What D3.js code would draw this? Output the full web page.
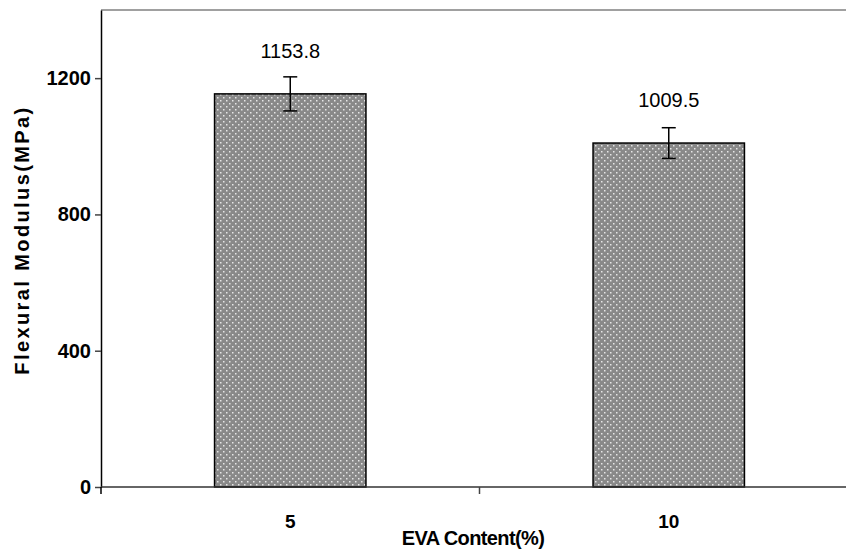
<!DOCTYPE html>
<html>
<head>
<meta charset="utf-8">
<script src="https://cdn.jsdelivr.net/npm/d3@7"></script>
<style>
  body { margin: 0; background: #fff; }
  text { font-family: Arial, "Liberation Sans", sans-serif; }
</style>
</head>
<body>
<div id="chart"></div>
<script>
const categories = ["5", "10"];
const values = [1153.8, 1009.5];
const errors = [50, 45];
const yTicks = [0, 400, 800, 1200];

const W = 846, H = 549;
const margin = {top: 10, left: 101, bottom: 62};
const plotRight = 858;
const height = H - margin.top - margin.bottom;

const svg = d3.select("#chart").append("svg")
    .attr("width", W)
    .attr("height", H);

// dotted fill like the old spreadsheet chart
const pat = svg.append("defs").append("pattern")
    .attr("id", "dots")
    .attr("patternUnits", "userSpaceOnUse")
    .attr("width", 6).attr("height", 6);
pat.append("rect").attr("width", 6).attr("height", 6).attr("fill", "#898989");
pat.append("rect").attr("x", 1).attr("y", 1).attr("width", 1.5).attr("height", 1.5).attr("fill", "#e6e6e6");
pat.append("rect").attr("x", 4).attr("y", 4).attr("width", 1.5).attr("height", 1.5).attr("fill", "#e6e6e6");

const x = d3.scaleBand()
    .domain(categories)
    .range([margin.left, plotRight])
    .padding(0);

const y = d3.scaleLinear()
    .domain([0, 1400])
    .range([margin.top + height, margin.top]);

const barW = x.bandwidth() * 0.4;

// top frame line
svg.append("line")
    .attr("x1", margin.left).attr("x2", W)
    .attr("y1", y(1400)).attr("y2", y(1400))
    .attr("stroke", "#808080").attr("stroke-width", 1.5);

// bars
svg.selectAll(".bar")
    .data(categories)
    .enter().append("rect")
    .attr("class", "bar")
    .attr("x", d => x(d) + (x.bandwidth() - barW) / 2)
    .attr("y", (d, i) => y(values[i]))
    .attr("width", barW)
    .attr("height", (d, i) => y(0) - y(values[i]))
    .attr("fill", "url(#dots)")
    .attr("stroke", "#000")
    .attr("stroke-width", 1.5);

// error bars
const eb = svg.selectAll(".err")
    .data(categories)
    .enter().append("g")
    .attr("class", "err")
    .attr("stroke", "#000")
    .attr("stroke-width", 1.5);
eb.append("line")
    .attr("x1", d => x(d) + x.bandwidth() / 2)
    .attr("x2", d => x(d) + x.bandwidth() / 2)
    .attr("y1", (d, i) => y(values[i] + errors[i]))
    .attr("y2", (d, i) => y(values[i] - errors[i]));
eb.append("line")
    .attr("x1", d => x(d) + x.bandwidth() / 2 - 7)
    .attr("x2", d => x(d) + x.bandwidth() / 2 + 7)
    .attr("y1", (d, i) => y(values[i] + errors[i]))
    .attr("y2", (d, i) => y(values[i] + errors[i]));
eb.append("line")
    .attr("x1", d => x(d) + x.bandwidth() / 2 - 7)
    .attr("x2", d => x(d) + x.bandwidth() / 2 + 7)
    .attr("y1", (d, i) => y(values[i] - errors[i]))
    .attr("y2", (d, i) => y(values[i] - errors[i]));

// value labels
svg.selectAll(".val")
    .data(categories)
    .enter().append("text")
    .attr("class", "val")
    .attr("x", d => x(d) + x.bandwidth() / 2)
    .attr("y", (d, i) => y(values[i]) - 36)
    .attr("text-anchor", "middle")
    .attr("font-size", "20px")
    .text((d, i) => values[i].toFixed(1));

// y axis
const yAxis = svg.append("g")
    .attr("transform", `translate(${margin.left},0)`)
    .call(d3.axisLeft(y).tickValues(yTicks).tickFormat(d3.format("d"))
        .tickSize(6).tickSizeOuter(0).tickPadding(4));
yAxis.select(".domain").attr("stroke", "#000").attr("stroke-width", 1.5);
yAxis.selectAll(".tick line").attr("stroke", "#444").attr("stroke-width", 1.5);
yAxis.selectAll("text").attr("font-size", "20px").attr("font-weight", "bold").attr("fill", "#000");

// x axis
const xAxis = svg.append("g")
    .attr("transform", `translate(0,${y(0)})`)
    .call(d3.axisBottom(x).tickSize(0).tickPadding(28));
xAxis.select(".domain").remove();
xAxis.selectAll("text").attr("font-size", "19px").attr("font-weight", "bold").attr("fill", "#000");
xAxis.append("line")
    .attr("x1", margin.left).attr("x2", W)
    .attr("stroke", "#333").attr("stroke-width", 1.5);
xAxis.selectAll(".sep")
    .data(categories.slice(1))
    .enter().append("line")
    .attr("class", "sep")
    .attr("x1", d => x(d)).attr("x2", d => x(d))
    .attr("y1", 0).attr("y2", 7)
    .attr("stroke", "#444").attr("stroke-width", 1.5);
xAxis.append("line")
    .attr("x1", margin.left).attr("x2", margin.left)
    .attr("y1", 0).attr("y2", 7)
    .attr("stroke", "#000").attr("stroke-width", 1.5);

// axis titles
svg.append("text")
    .attr("x", 473).attr("y", 545)
    .attr("text-anchor", "middle")
    .attr("font-size", "20px")
    .attr("font-weight", "bold")
    .attr("letter-spacing", "-0.6px")
    .text("EVA Content(%)");

svg.append("text")
    .attr("transform", "translate(29,240) rotate(-90)")
    .attr("text-anchor", "middle")
    .attr("font-size", "20px")
    .attr("font-weight", "bold")
    .attr("letter-spacing", "2.4px")
    .text("Flexural Modulus(MPa)");
</script>
</body>
</html>
